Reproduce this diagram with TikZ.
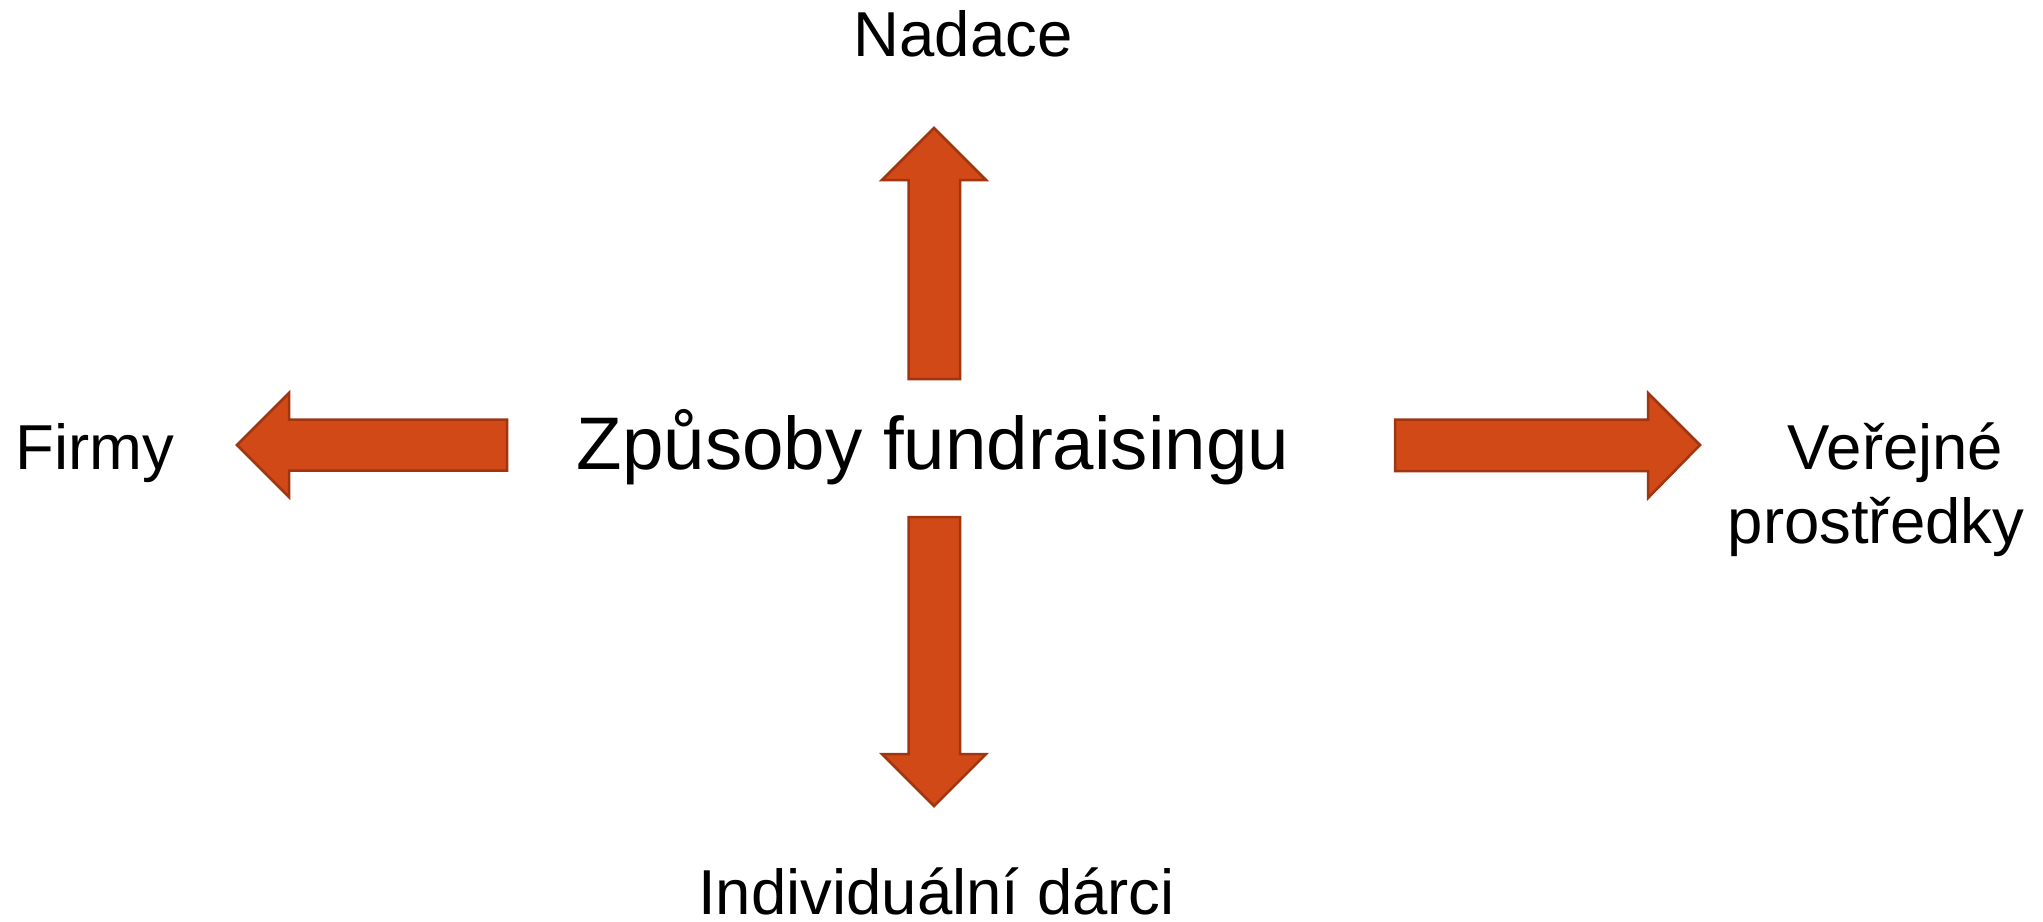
\documentclass[tikz,border=0pt]{standalone}
\usepackage{fontspec}
\setmainfont{Liberation Sans}
\definecolor{arrfill}{RGB}{208,73,23}
\definecolor{arrline}{RGB}{160,54,15}
\tikzset{
  blockarrow/.style={fill=arrfill, draw=arrline, line width=2.5bp, line join=miter},
  lbl/.style={inner sep=0pt, anchor=base, font=\fontsize{63.5bp}{74bp}\selectfont},
  centre/.style={inner sep=0pt, anchor=base, font=\fontsize{74.5bp}{86bp}\selectfont}
}
\begin{document}
\begin{tikzpicture}[x=1bp,y=-1bp]
\useasboundingbox (0,0) rectangle (2043,922);
% arrows
\draw[blockarrow] (908.5,379) -- (908.5,180) -- (882,180) -- (934,128) -- (986,180) -- (960,180) -- (960,379) -- cycle;
\draw[blockarrow] (908.5,517) -- (960,517) -- (960,754) -- (986,754) -- (934,806) -- (882,754) -- (908.5,754) -- cycle;
\draw[blockarrow] (507,419.5) -- (289,419.5) -- (289,393) -- (237,445) -- (289,497) -- (289,470.5) -- (507,470.5) -- cycle;
\draw[blockarrow] (1395,419.5) -- (1648,419.5) -- (1648,393) -- (1700,445) -- (1648,498) -- (1648,471) -- (1395,471) -- cycle;
% texts
\node[centre] (center) at (933,469) {Způsoby fundraisingu};
\node[lbl] (nadace) at (963,56) {Nadace};
\node[lbl] (firmy) at (95,469) {Firmy};
\node[lbl] (ver1) at (1895.5,469) {Veřejné};
\node[lbl] (ver2) at (1876,543) {prostředky};
\node[lbl] (indiv) at (936.5,914) {Individuální dárci};
\end{tikzpicture}
\end{document}
